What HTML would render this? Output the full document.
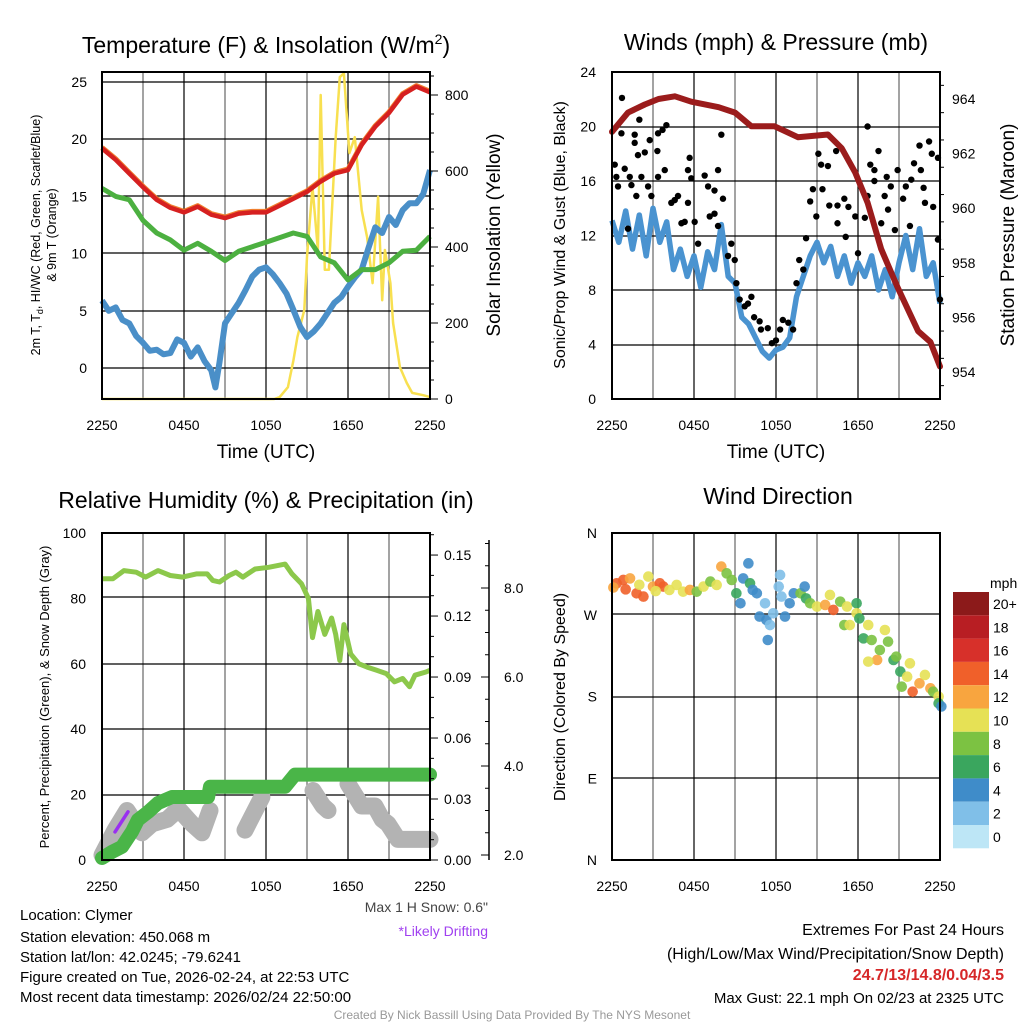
<!DOCTYPE html>
<html><head><meta charset="utf-8"><style>
html,body{margin:0;padding:0;background:#fff;}
svg{display:block;font-family:"Liberation Sans",Arial,sans-serif;}
</style></head><body>
<svg id="chart" width="1024" height="1024" viewBox="0 0 1024 1024" xmlns="http://www.w3.org/2000/svg">
<rect x="0" y="0" width="1024" height="1024" fill="#fff"/>
<g id="g1"></g>
<g id="g2"></g>
<g id="g3"></g>
<g id="g4"></g>
<g id="gt">
<text x="20" y="920" font-size="15">Location: Clymer</text>
<text x="20" y="942" font-size="15">Station elevation: 450.068 m</text>
<text x="20" y="962" font-size="15">Station lat/lon: 42.0245; -79.6241</text>
<text x="20" y="982" font-size="15">Figure created on Tue, 2026-02-24, at 22:53 UTC</text>
<text x="20" y="1002" font-size="15">Most recent data timestamp: 2026/02/24 22:50:00</text>
<text x="488" y="912" font-size="14" fill="#444" text-anchor="end">Max 1 H Snow: 0.6"</text>
<text x="488" y="936" font-size="14" fill="#a040f0" text-anchor="end">*Likely Drifting</text>
<text x="1004" y="935" font-size="16" text-anchor="end">Extremes For Past 24 Hours</text>
<text x="1004" y="959" font-size="16" text-anchor="end">(High/Low/Max Wind/Precipitation/Snow Depth)</text>
<text x="1004" y="980" font-size="16" font-weight="bold" fill="#d62728" text-anchor="end">24.7/13/14.8/0.04/3.5</text>
<text x="1004" y="1003" font-size="15" text-anchor="end">Max Gust: 22.1 mph On 02/23 at 2325 UTC</text>
<text x="512" y="1019" font-size="12" fill="#999" text-anchor="middle">Created By Nick Bassill Using Data Provided By The NYS Mesonet</text>
</g>
</svg>
<script>
// ---------- DATA ----------
const xTickLabels = ["2250","0450","1050","1650","2250"];
// Panel 1 (hours since 2250)
const tempHours = [0,1,2,3,4,5,6,7,8,9,10,11,12,13,14,15,16,17,18,19,20,21,22,23,24];
const redTemp = [19.2,18.2,17.0,15.8,14.7,14.0,13.6,14.1,13.4,13.1,13.5,13.6,13.6,14.2,14.8,15.4,16.3,17.0,17.3,19.5,21.1,22.3,23.9,24.6,24.1];
const greenDew = [15.7,15.0,14.7,12.9,11.8,11.2,10.3,10.9,10.2,9.4,10.2,10.6,11.0,11.4,11.8,11.5,9.7,9.2,7.7,8.6,8.6,9.2,10.2,10.3,11.5];
const blueHours = [0,0.5,1,1.5,2,2.5,3,3.5,4,4.5,5,5.5,6,6.5,7,7.5,8,8.3,8.6,9,9.5,10,10.5,11,11.5,12,12.5,13,13.5,14,14.5,15,15.5,16,16.5,17,17.5,18,18.5,19,19.5,20,20.5,21,21.5,22,22.5,23,23.5,24];
const blueTemp = [5.9,5.0,5.3,4.2,3.9,2.8,2.2,1.5,1.6,1.2,1.3,2.5,2.2,1.0,1.8,0.6,-0.2,-1.7,0.5,3.9,4.8,5.7,6.8,8.0,8.6,8.8,8.2,7.4,6.5,5.1,3.6,2.7,3.2,3.9,4.8,5.7,6.2,7.1,7.9,8.6,10.5,12.3,11.8,13.2,12.5,13.8,14.4,14.4,15.2,17.3];
const solarHours = [0,12.6,13.0,13.6,14.0,14.3,14.8,15.0,15.4,15.8,16.0,16.3,16.6,17.1,17.4,17.7,18.1,18.5,19.0,19.4,19.8,20.2,20.5,20.7,21.1,21.3,21.8,22.3,22.7,23.5,24.0];
const solarVals = [0,0,5,31,100,163,234,374,558,392,800,340,340,689,847,857,647,689,497,426,305,532,260,392,305,200,84,42,16,10,5];
// Panel 2
const windHours = [0,0.5,1,1.5,2,2.5,3,3.5,4,4.5,5,5.5,6,6.5,7,7.5,8,8.5,9,9.5,10,10.5,11,11.5,12,12.5,13,13.5,14,14.5,15,15.5,16,16.5,17,17.5,18,18.5,19,19.5,20,20.5,21,21.5,22,22.5,23,23.5,24];
const windSpeed = [13.1,11.5,13.8,11.0,13.5,10.5,14.0,11.5,13.0,9.5,11.0,9.0,10.5,8.2,10.8,9.5,12.8,9.0,8.5,6.0,5.5,4.5,3.5,3.0,3.6,3.8,4.5,7.5,9.0,10.5,11.5,10.0,11.2,9.0,10.5,8.5,10.0,9.0,10.5,8.0,9.5,7.5,10.0,12.0,9.5,12.5,9.0,10.0,7.0];
const gustHours = [0.2,0.73,0.69,1.66,2.0,1.66,1.9,2.4,2.76,3.37,3.7,3.98,3.32,0.32,0.44,0.93,1.3,1.42,2.15,2.64,2.88,3.37,3.86,1.78,1.17,4.34,4.59,4.83,5.08,5.32,5.68,5.56,5.8,5.56,6.05,6.3,6.78,7.03,7.5,7.15,7.5,7.76,8.0,7.76,8.12,8.73,8.98,8.49,9.1,9.34,9.71,9.95,10.2,10.4,10.8,10.9,11.4,11.7,12.0,12.3,12.5,12.9,13.25,13.5,13.7,14.0,14.2,14.5,14.7,14.95,15.1,15.3,15.4,15.8,15.9,16.4,16.5,16.5,17.0,17.1,17.3,17.8,18.0,18.7,18.9,19.2,19.5,19.2,18.7,18.5,19.7,20.1,19.95,20.2,20.4,20.7,20.9,21.3,21.5,21.8,21.9,22.1,22.5,22.6,22.8,22.9,23.2,23.4,23.5,23.85,23.85,24.0];
const gustSpeed = [17.2,22.1,19.5,19.4,20.5,18.8,17.9,18.1,19.0,19.5,19.75,20.1,18.2,16.3,15.6,16.9,16.3,15.7,16.3,15.6,14.9,16.3,16.8,14.9,12.5,14.4,14.6,14.9,12.9,13.0,17.7,16.8,16.2,14.4,13.0,11.4,16.4,15.6,15.3,13.4,13.6,12.7,19.4,16.8,14.7,11.4,10.2,10.5,8.5,7.3,6.8,7.0,7.5,6.0,5.7,5.1,5.2,4.1,4.3,5.1,5.8,5.6,5.1,8.5,10.2,9.5,11.8,14.5,15.4,13.4,18.0,17.2,15.4,17.1,14.2,18.2,14.2,12.9,14.7,11.9,14.1,13.4,10.7,20.0,17.2,16.8,18.2,16.0,14.9,13.3,12.9,16.3,14.9,13.9,15.6,12.4,16.8,14.7,15.6,12.7,16.1,17.3,18.6,16.8,15.5,14.4,18.9,18.0,14.1,17.7,11.7,7.3];
const presHours = [0,1.17,2.4,3.4,4.6,5.8,7.8,9.0,10.2,11.9,13.6,15.8,16.8,17.8,18.7,19.7,20.9,22.4,23.3,24];
const presVals = [962.8,963.5,963.8,964.0,964.1,963.9,963.7,963.5,963.0,963.0,962.6,962.7,962.2,961.3,960.2,958.5,957.1,955.5,955.1,954.2];
// Panel 3
const rhHours = [0,0.8,1.6,2.5,3.2,4.1,5,5.9,6.9,7.7,8.1,8.6,9.3,9.8,10.3,11.2,12.2,13.4,13.9,14.6,15.1,15.4,15.8,16.3,16.8,17.1,17.4,17.7,18.2,18.8,19.4,20.1,20.8,21.4,22,22.5,22.9,23.7,24];
const rhVals = [86,86,88.5,88,86.5,88.5,87,86.5,87.5,87.5,85.5,85,87,88,86.5,89,89.5,90.5,87.5,84.5,80,68,76,69,74,69,61,72,63,60,59,58,57,54.5,55.5,53,56.5,57.5,58];
const precipHours = [0,0.73,1.46,2.2,2.63,3.37,4.1,5.12,7.76,7.9,13.39,14.12,24];
const precipVals = [0.001,0.004,0.0065,0.014,0.0197,0.0236,0.028,0.031,0.031,0.036,0.036,0.042,0.042];
const snowSegHours = [[0,0.95,1.83,2.93,3.66,4.76,5.12,5.56,6.59,7.32,7.9],[10.46,11.7],[15.44,16.17,16.54],[18.0,19.0,19.97,20.5,20.93,21.66,24]];
const snowSegVals = [[2.0,2.56,3.0,2.5,2.7,2.8,2.9,3.05,2.7,2.5,3.0],[2.56,3.3],[3.45,3.1,3.0],[3.6,3.1,3.1,2.8,2.7,2.35,2.35]];
const driftHours = [0.95,1.9];
const driftVals = [2.52,2.97];
// Panel 4
const dirHours = [0.34,0.83,1.32,1.8,2.3,2.66,3.0,3.5,3.76,4.2,4.73,5.2,5.7,6.2,6.7,7.2,7.66,8.0,8.39,8.76,9.1,9.4,9.6,9.98,10.1,10.3,10.6,10.8,11.2,11.3,11.56,11.4,11.8,12.3,12.2,12.4,12.66,13.0,13.3,13.8,14.1,14.2,14.5,15.0,15.6,15.95,16.2,16.7,17.2,17.9,17.9,17.0,17.4,18.1,18.75,18.4,19.0,19.4,18.75,19.6,19.97,20.2,20.6,20.8,21.1,21.6,21.8,21.2,22.0,22.5,22.9,23.3,23.5,23.9,23.9,24.1,0.1,1.0,2.0,3.2];
const dirDeg = [304.6,308.3,310,293.6,290,312,301,304.6,301,297.3,302.8,295.4,297.3,295.4,301,306.5,302.8,323,315.6,308.3,293.6,282.6,310,326.6,304.6,297.3,293.6,268,282.6,264.2,258.7,242.2,271.6,313.8,301,290,268,282.6,293.6,293.6,301,288,282.6,279,280.8,291.8,275.3,284.4,279,282.6,271.6,258.7,258.7,266,258.7,244,242.2,220.2,218.4,231.2,253.2,240.4,220.2,223.9,207.4,201.8,216.5,190.8,185.3,194.5,203.7,189,185.3,179.8,172.5,169,300,298,303,296];
const dirSpeed = [14,14,12,14,14,10,12,14,14,10,10,10,12,8,10,8,10,12,8,8,6,4,4,4,6,4,4,4,2,4,2,4,2,2,2,2,4,4,4,8,4,6,8,10,12,10,14,8,10,6,10,8,10,6,10,6,8,12,10,8,10,8,6,8,6,10,10,8,14,12,10,12,8,10,6,4,12,14,10,10];
const speedBinLabels = ["0","2","4","6","8","10","12","14","16","18","20+"];
const speedColors = ["#bde6f6","#80bfe8","#3f8cc9","#3aa65e","#7cc242","#e6e155","#f8a53f","#f0602a","#d7302a","#b81e23","#8c1a1a"];

// ---------- HELPERS ----------
const NS = "http://www.w3.org/2000/svg";
function mk(parent, tag, attrs){ const e=document.createElementNS(NS,tag); for(const k in attrs) e.setAttribute(k,attrs[k]); parent.appendChild(e); return e; }
function txt(parent, x, y, s, size, anchor, extra){ const e=mk(parent,'text',Object.assign({x:x,y:y,'font-size':size,'text-anchor':anchor||'start'},extra||{})); e.textContent=s; return e; }
function pathFrom(xs, ys, sx, sy){ let d=''; for(let i=0;i<xs.length;i++){ d+=(i?'L':'M')+sx(xs[i]).toFixed(1)+','+sy(ys[i]).toFixed(1);} return d; }

function makeX(x0){ return h => x0 + h*328/24; }
function frame(g, x0, y0, x1, y1, hGrid){
  for(let i=1;i<8;i++){ const x=x0+i*41;
    const l=mk(g,'line',{x1:x,y1:y0,x2:x,y2:y1,stroke:(i%2?'#666':'#000'),'stroke-width':1.2});
      }
  hGrid.forEach(y=>{ const l=mk(g,'line',{x1:x0,y1:y,x2:x1,y2:y,stroke:'#000','stroke-width':1.2});
      });
}
function border(g,x0,y0,x1,y1){ const r=mk(g,'rect',{x:x0,y:y0,width:x1-x0,height:y1-y0,fill:'none',stroke:'#000','stroke-width':2});
    }
function xTicks(g,x0,y1){
  xTickLabels.forEach((s,i)=>{ const t=txt(g,x0+i*82,y1+31,s,14,'middle');
      });
}

// ---------- PANEL 1 ----------
(function(){
  const g=document.getElementById('g1');
  const X=makeX(102), Y=v=>368-v*11.44, YS=v=>399-v*0.38;
  frame(g,102,72,430,399,[82,139,196,253,311,368]);
  const sol=mk(g,'path',{d:pathFrom(solarHours,solarVals,X,YS),fill:'none',stroke:'#f8e050','stroke-width':2.5,'stroke-linejoin':'round'});
   
  const b=mk(g,'path',{d:pathFrom(blueHours,blueTemp,X,Y),fill:'none',stroke:'#4a8fc8','stroke-width':6,'stroke-linejoin':'round'});
   
  const gr=mk(g,'path',{d:pathFrom(tempHours,greenDew,X,Y),fill:'none',stroke:'#4cb040','stroke-width':5,'stroke-linejoin':'round'});
   
  const o=mk(g,'path',{d:pathFrom(tempHours,redTemp,X,v=>Y(v)-1),fill:'none',stroke:'#f08030','stroke-width':5,'stroke-linejoin':'round'});
   
  const r=mk(g,'path',{d:pathFrom(tempHours,redTemp,X,Y),fill:'none',stroke:'#d62020','stroke-width':4.5,'stroke-linejoin':'round'});
   
  border(g,102,72,430,399);
  [0,5,10,15,20,25].forEach(v=>{ const t=txt(g,87,Y(v)+5,String(v),14,'end');   });
  for(let v=0;v<=850;v+=50){ const y=YS(v); const l=mk(g,'line',{x1:430,y1:y,x2:v%200===0?438:434,y2:y,stroke:'#000','stroke-width':1});   }
  [0,200,400,600,800].forEach(v=>{ const t=txt(g,445,YS(v)+5,String(v),14,'start');   });
  xTicks(g,102,399);
  const ti=txt(g,266,53,'Temperature (F) & Insolation (W/m',23,'middle');  
  const sp=mk(ti,'tspan',{'font-size':14,dy:-9}); sp.textContent='2'; const sp2=mk(ti,'tspan',{dy:9}); sp2.textContent=')';
  const xt=txt(g,266,458,'Time (UTC)',19,'middle');  
  const yl=txt(g,0,0,'2m T, T',12.5,'middle',{transform:'translate(40,235) rotate(-90)'});  
  const sd=mk(yl,'tspan',{'font-size':9,dy:3}); sd.textContent='d'; const rest=mk(yl,'tspan',{dy:-3}); rest.textContent=', HI/WC (Red, Green, Scarlet/Blue)';
  const yl2=txt(g,0,0,'& 9m T (Orange)',12.5,'middle',{transform:'translate(56,235) rotate(-90)'});  
  const yr=txt(g,0,0,'Solar Insolation (Yellow)',19,'middle',{transform:'translate(500,235) rotate(-90)'});  
})();

// ---------- PANEL 2 ----------
(function(){
  const g=document.getElementById('g2');
  const X=makeX(612), Y=v=>399-v*13.625, YP=v=>372-(v-954)*27.3;
  frame(g,612,72,940,399,[127,181,236,290,345]);
  const b=mk(g,'path',{d:pathFrom(windHours,windSpeed,X,Y),fill:'none',stroke:'#4a93d0','stroke-width':5.5,'stroke-linejoin':'round'});
   
  for(let i=0;i<gustHours.length;i++){
    const c=mk(g,'circle',{cx:X(gustHours[i]),cy:Y(gustSpeed[i]),r:3.2,fill:'#000'});
     
  }
  const p=mk(g,'path',{d:pathFrom(presHours,presVals,X,YP),fill:'none',stroke:'#9b1c1c','stroke-width':6,'stroke-linejoin':'round','stroke-linecap':'round'});
   
  border(g,612,72,940,399);
  [0,4,8,12,16,20,24].forEach(v=>{ const t=txt(g,596,Y(v)+5,String(v),14,'end');   });
  for(let v=953.5;v<=965.1;v+=1){ const y=YP(v); const l=mk(g,'line',{x1:940,y1:y,x2:944,y2:y,stroke:'#000','stroke-width':1});   }
  [954,956,958,960,962,964].forEach(v=>{ const t=txt(g,952,YP(v)+5,String(v),14,'start');   });
  xTicks(g,612,399);
  const ti=txt(g,776,50,'Winds (mph) & Pressure (mb)',23,'middle');  
  const xt=txt(g,776,458,'Time (UTC)',19,'middle');  
  const yl=txt(g,0,0,'Sonic/Prop Wind & Gust (Blue, Black)',16,'middle',{transform:'translate(565,235) rotate(-90)'});  
  const yr=txt(g,0,0,'Station Pressure (Maroon)',19,'middle',{transform:'translate(1014,235) rotate(-90)'});  
})();

// ---------- PANEL 3 ----------
(function(){
  const g=document.getElementById('g3');
  const X=makeX(102), Y=v=>860-v*3.27, YP=v=>860-v*2033, YS=v=>855-(v-2)*44.5;
  frame(g,102,533,430,860,[597,664,729,795]);
  for(let s=0;s<snowSegHours.length;s++){
    const p=mk(g,'path',{d:pathFrom(snowSegHours[s],snowSegVals[s],X,YS),fill:'none',stroke:'#b3b3b3','stroke-width':17,'stroke-linejoin':'round','stroke-linecap':'round'});
     
  }
  const dr=mk(g,'path',{d:pathFrom(driftHours,driftVals,X,YS),fill:'none',stroke:'#9a30f0','stroke-width':3.5,'stroke-linecap':'round'});
   
  const pr=mk(g,'path',{d:pathFrom(precipHours,precipVals,X,YP),fill:'none',stroke:'#4ab548','stroke-width':14,'stroke-linejoin':'round','stroke-linecap':'round'});
   
  const rh=mk(g,'path',{d:pathFrom(rhHours,rhVals,X,Y),fill:'none',stroke:'#8cc84b','stroke-width':5,'stroke-linejoin':'round'});
   
  border(g,102,533,430,860);
  [0,20,40,60,80,100].forEach(v=>{ const t=txt(g,86,Y(v)+5,String(v),14,'end');   });
  for(let v=0;v<=0.16;v+=0.01){ const y=YP(v); const l=mk(g,'line',{x1:430,y1:y,x2:Math.round(v*100)%3===0?438:434,y2:y,stroke:'#000','stroke-width':1});   }
  ["0.00","0.03","0.06","0.09","0.12","0.15"].forEach(s=>{ const t=txt(g,444,YP(parseFloat(s))+5,s,14,'start');   });
  const ax=mk(g,'line',{x1:489,y1:540,x2:489,y2:860,stroke:'#000','stroke-width':1.5});  
  for(let v=2;v<=9.2;v+=0.5){ const y=YS(v); const l=mk(g,'line',{x1:489,y1:y,x2:v%2===0?481:485,y2:y,stroke:'#000','stroke-width':1});   }
  ["2.0","4.0","6.0","8.0"].forEach(s=>{ const t=txt(g,504,YS(parseFloat(s))+5,s,14,'start');   });
  xTicks(g,102,860);
  const ti=txt(g,266,508,'Relative Humidity (%) & Precipitation (in)',23,'middle');  
  const yl=txt(g,0,0,'Percent, Precipitation (Green), & Snow Depth (Gray)',13,'middle',{transform:'translate(49,697) rotate(-90)'});  
})();

// ---------- PANEL 4 ----------
(function(){
  const g=document.getElementById('g4');
  const X=makeX(612), Y=d=>860-d*327/360;
  frame(g,612,533,940,860,[614,697,778]);
  for(let i=0;i<dirHours.length;i++){
    const idx=Math.min(10,Math.max(0,Math.floor(dirSpeed[i]/2)));
    const c=mk(g,'circle',{cx:X(dirHours[i]),cy:Y(dirDeg[i]),r:5.3,fill:speedColors[idx],'fill-opacity':0.9});
     
  }
  border(g,612,533,940,860);
  [["N",0],["E",90],["S",180],["W",270],["N",360]].forEach(a=>{ const t=txt(g,597,Y(a[1])+5,a[0],14,'end');   });
  xTicks(g,612,860);
  const ti=txt(g,778,504,'Wind Direction',23,'middle');  
  const yl=txt(g,0,0,'Direction (Colored By Speed)',16,'middle',{transform:'translate(565,697) rotate(-90)'});  
  const u=txt(g,990,588,'mph',14,'start');  
  for(let i=0;i<11;i++){
    const k=10-i; const y=592+i*23.3;
    const r=mk(g,'rect',{x:953,y:y,width:36,height:23.3,fill:speedColors[k]});
     
    const t=txt(g,993,y+17,speedBinLabels[k],14,'start');  
  }
})();
</script>
</body></html>
